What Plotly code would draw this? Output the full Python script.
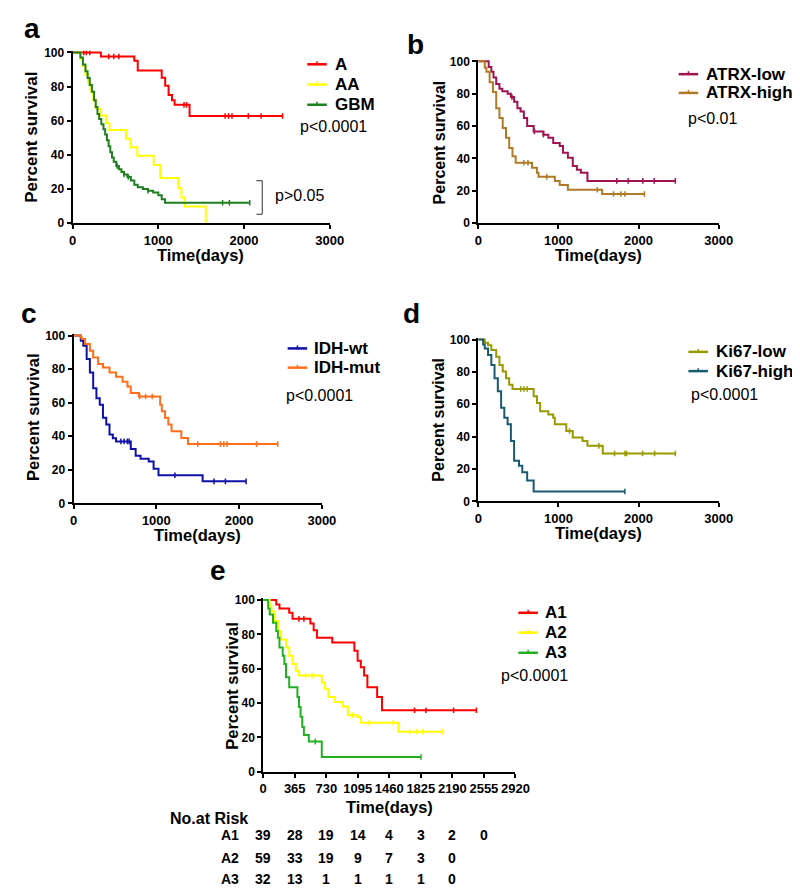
import numpy as np
import plotly.graph_objects as go

W, H = 800, 891
FONT = "Liberation Sans, Arial, sans-serif"

# ---------------- data ----------------
# Panel a
A_t = [0, 330, 720, 760, 1040, 1080, 1120, 1160, 1190, 1365, 2450]
A_s = [100, 97.6, 95.2, 89.5, 85.2, 80.5, 75, 72, 69.3, 62.8, 62.8]
A_c = [130, 160, 200, 420, 480, 540, 1300, 1330, 1780, 1820, 1860, 2050, 2200, 2450]
AA_t = [0, 91, 120, 150, 180, 210, 240, 270, 330, 390, 430, 623, 680, 756, 946, 1022, 1231, 1270, 1307, 1554]
AA_s = [100, 96, 92, 87, 82, 77, 72, 67, 63, 58.5, 54.5, 49.5, 44.5, 39.5, 34, 26.5, 20.5, 15, 9.8, 0]
AA_c = []
GBM_t = [0, 91, 120, 150, 175, 200, 225, 250, 270, 290, 310, 335, 360, 380, 400, 420, 440, 460, 480, 510,
         540, 570, 600, 640, 680, 720, 760, 820, 880, 940, 1000, 1040, 1079, 2067]
GBM_s = [100, 97, 93, 89, 85, 81, 77, 72, 68, 64, 61, 58, 55, 52, 48.5, 45, 41.5, 38.5, 36, 33.5,
         31.5, 30, 28.5, 27, 25, 22.5, 21, 20, 19, 18, 16.3, 14, 11.9, 11.9]
GBM_c = [520, 600, 650, 880, 1750, 1830, 2067]

# Panel b
ATL_t = [0, 130, 163, 190, 224, 264, 300, 366, 407, 447, 488, 528, 569, 610, 691, 813, 874, 935, 1016,
         1057, 1118, 1179, 1230, 1280, 1362, 2459]
ATL_s = [100, 96.5, 93.5, 90, 86, 83, 81.5, 80, 78, 75, 71, 69, 65, 60, 56.7, 54.7, 52.7, 49.6, 47.6,
         43.5, 40.4, 35.3, 33, 31.2, 26.1, 26.1]
ATL_c = [420, 700, 813, 1728, 1870, 2053, 2195, 2459]
ATH_t = [0, 81, 102, 142, 183, 224, 264, 305, 346, 386, 427, 467, 671, 732, 752, 955, 1016, 1118, 1545, 2073]
ATH_s = [100, 96, 93.5, 87, 81, 71, 65, 58.8, 52.7, 46.5, 41.4, 37.3, 34.3, 31.2, 28.6, 26.1, 23.5, 20.6, 18, 18]
ATH_c = [569, 620, 854, 1484, 1687, 1780, 1830, 2073]

# Panel c
WT_t = [0, 87, 118, 158, 197, 237, 276, 316, 355, 395, 434, 474, 513, 691, 750, 809, 908, 967, 1026, 1559, 2084]
WT_s = [100, 97, 94, 86, 78, 68.6, 62.7, 58.8, 51, 47, 41, 38.8, 36.9, 32.4, 28.4, 26.5, 24.9, 20.6, 16.7, 13.1, 13.1]
WT_c = [572, 610, 650, 671, 1224, 1697, 1835, 2084]
MUT_t = [0, 87, 99, 138, 197, 237, 296, 355, 434, 513, 592, 651, 691, 789, 1046, 1066, 1105, 1145, 1184,
         1302, 1382, 2467]
MUT_s = [100, 99, 98, 95, 91, 87, 83, 81, 78, 75.5, 72.5, 69.6, 65.7, 63.7, 58.8, 54.9, 51, 47, 43,
         39, 35.3, 35.3]
MUT_c = [800, 870, 950, 1500, 1776, 1815, 1855, 2210, 2467]

# Panel d
KL_t = [0, 81, 122, 163, 224, 264, 305, 346, 386, 427, 691, 732, 772, 874, 935, 955, 1098, 1179, 1301,
        1362, 1553, 2459]
KL_s = [100, 98, 96.5, 93.5, 89.4, 84.3, 80.2, 76, 72, 69.4, 64.9, 60.8, 55.7, 53.7, 51.6, 47.6, 43.5,
        39.4, 37.3, 34.3, 29.6, 29.6]
KL_c = [530, 570, 610, 1138, 1504, 1700, 1830, 1850, 2050, 2200, 2459]
KH_t = [0, 61, 81, 122, 163, 203, 244, 285, 325, 366, 407, 447, 508, 549, 610, 691, 1829]
KH_s = [100, 97, 94.5, 90.4, 84.3, 76, 68, 57.8, 51.6, 47.6, 37.3, 25.1, 22, 18, 12.9, 6.1, 6.1]
KH_c = [1829]

# Panel e
E1_t = [0, 151, 188, 301, 339, 546, 584, 622, 799, 1055, 1093, 1130, 1168, 1206, 1319, 1375, 2468]
E1_s = [100, 97.3, 95, 92.5, 89, 86.3, 82.3, 78, 75.2, 70.4, 64.6, 60.8, 56, 49.2, 43.5, 35.8, 35.8]
E1_c = [414, 471, 1752, 1884, 2204, 2468]
E2_t = [0, 75, 94, 132, 170, 207, 264, 301, 339, 377, 414, 678, 716, 754, 829, 923, 980, 1093, 1130, 1564, 2072]
E2_s = [100, 97, 93.5, 87.7, 82, 77, 72.3, 67.5, 62.7, 58.8, 56, 52, 48.3, 43.5, 40.6, 38, 32.9, 31.9,
        28.5, 23.3, 23.3]
E2_c = [490, 565, 1036, 1225, 1507, 1695, 1780, 1846, 2072]
E3_t = [0, 57, 75, 113, 151, 170, 188, 226, 245, 264, 301, 396, 414, 433, 452, 471, 528, 678, 1827]
E3_s = [100, 95, 91.5, 86.7, 82, 78, 72.3, 67.5, 62.7, 55, 49.2, 43.5, 37.7, 32, 26, 21.3, 17.5, 8.5, 8.5]
E3_c = [603, 1827]

# risk table
risk_times = [0, 365, 730, 1095, 1460, 1825, 2190, 2555]
risk_A1 = [39, 28, 19, 14, 4, 3, 2, 0]
risk_A2 = [59, 33, 19, 9, 7, 3, 0]
risk_A3 = [32, 13, 1, 1, 1, 1, 0]

xt_std = [0, 1000, 2000, 3000]
xt_e = [0, 365, 730, 1095, 1460, 1825, 2190, 2555, 2920]
yt = [0, 20, 40, 60, 80, 100]

# ---------------- helpers ----------------
def X(px):
    return px / W

def Y(py):
    return 1 - py / H

def surv_at(tc, t, s):
    t = np.asarray(t); s = np.asarray(s)
    idx = np.searchsorted(t, np.asarray(tc, dtype=float), side="right") - 1
    return s[np.clip(idx, 0, len(s) - 1)]

YTOP = 101.0

panels = [
    dict(k="", xd=(62, 325), y0=213, y100=40, xmax=3000, xt=xt_std,
         curves=[("A", A_t, A_s, A_c, "#ff0000"), ("AA", AA_t, AA_s, AA_c, "#ffff00"),
                 ("GBM", GBM_t, GBM_s, GBM_c, "#1e7f1e")]),
    dict(k="2", xd=(477, 723), y0=213, y100=49, xmax=3000, xt=xt_std,
         curves=[("ATRX-low", ATL_t, ATL_s, ATL_c, "#a01350"), ("ATRX-high", ATH_t, ATH_s, ATH_c, "#b07a27")]),
    dict(k="3", xd=(63, 317), y0=497, y100=327, xmax=3000, xt=xt_std,
         curves=[("IDH-wt", WT_t, WT_s, WT_c, "#1010a8"), ("IDH-mut", MUT_t, MUT_s, MUT_c, "#ff6e1a")]),
    dict(k="4", xd=(477, 723), y0=495, y100=331, xmax=3000, xt=xt_std,
         curves=[("Ki67-low", KL_t, KL_s, KL_c, "#999900"), ("Ki67-high", KH_t, KH_s, KH_c, "#195b6e")]),
    dict(k="5", xd=(257, 515), y0=769, y100=595, xmax=2920, xt=xt_e,
         curves=[("A1", E1_t, E1_s, E1_c, "#ff0000"), ("A2", E2_t, E2_s, E2_c, "#ffff00"),
                 ("A3", E3_t, E3_s, E3_c, "#22b022")]),
]

fig = go.Figure()
layout = dict(width=W, height=H, margin=dict(l=0, r=0, t=0, b=0),
              paper_bgcolor="white", plot_bgcolor="white", showlegend=False)

for p in panels:
    k = p["k"]
    ybot = Y(p["y0"]); y100 = Y(p["y100"])
    ytop = ybot + (y100 - ybot) * YTOP / 100
    layout["xaxis" + k] = dict(domain=[X(p["xd"][0]), X(p["xd"][1])], range=[0, p["xmax"]],
                               anchor="y" + k, tickvals=p["xt"], showline=True, linecolor="black",
                               linewidth=2, ticks="outside", ticklen=4, tickwidth=2, tickcolor="black",
                               showgrid=False, zeroline=False,
                               tickfont=dict(family=FONT, size=13, color="black", weight="bold"))
    layout["yaxis" + k] = dict(domain=[ybot, ytop], range=[0, YTOP], anchor="x" + k, tickvals=yt,
                               showline=True, linecolor="black", linewidth=2, ticks="outside",
                               ticklen=4, tickwidth=2, tickcolor="black", showgrid=False, zeroline=False,
                               tickfont=dict(family=FONT, size=12, color="black", weight="bold"))
    for name, t, s, c, col in p["curves"]:
        fig.add_trace(go.Scatter(x=t, y=s, mode="lines", line=dict(color=col, width=2, shape="hv"),
                                 name=name, xaxis="x" + k, yaxis="y" + k))
        if len(c):
            fig.add_trace(go.Scatter(x=c, y=surv_at(c, t, s), mode="markers",
                                     marker=dict(symbol="line-ns", size=4,
                                                 line=dict(color=col, width=1.5)),
                                     name=name, xaxis="x" + k, yaxis="y" + k, showlegend=False))

ann = []
shapes = []

def text(px, py, s, size, bold=True, xanchor="center", yanchor="middle", angle=0, xref="paper", xval=None):
    ann.append(dict(x=X(px) if xval is None else xval, y=Y(py), xref=xref, yref="paper", text=s,
                    showarrow=False, xanchor=xanchor, yanchor=yanchor, textangle=angle,
                    font=dict(family=FONT, size=size, color="black", weight="bold" if bold else "normal")))

# panel letters
text(10, 16, "a", 28, xanchor="left")
text(402, 32, "b", 28, xanchor="left")
text(7, 305, "c", 28, xanchor="left")
text(398, 305, "d", 28, xanchor="left")
text(201, 565, "e", 28, xanchor="left")

# y titles
text(20, 126, "Percent survival", 17, angle=-90)
text(437, 131, "Percent survival", 16, angle=-90)
text(22, 410, "Percent survival", 16.5, angle=-90)
text(436, 412, "Percent survival", 16, angle=-90)
text(225, 682, "Percent survival", 16.5, angle=-90)

# x titles
text(193, 245, "Time(days)", 16.5)
text(600, 245, "Time(days)", 16.5)
text(190, 529, "Time(days)", 16.5)
text(600, 527, "Time(days)", 16.5)
text(386, 805, "Time(days)", 16.5)

# legends (manual)
legends = [
    (panels[0], 302, 322, 328, [52, 72.5, 93]),
    (panels[1], 682, 702, 708, [62, 81]),
    (panels[2], 282, 302, 307, [340, 359.5]),
    (panels[3], 692, 712, 718, [343.5, 363]),
    (panels[4], 518, 538, 543, [608, 628, 648.5]),
]
for p, x0, x1, xt, ys in legends:
    for (name, t, s, c, col), yy in zip(p["curves"], ys):
        shapes.append(dict(type="line", xref="paper", yref="paper", x0=X(x0), x1=X(x1), y0=Y(yy), y1=Y(yy),
                           line=dict(color=col, width=2.5)))
        shapes.append(dict(type="line", xref="paper", yref="paper", x0=X((x0 + x1) / 2), x1=X((x0 + x1) / 2),
                           y0=Y(yy - 3), y1=Y(yy + 1), line=dict(color=col, width=1.5)))
        text(xt, yy, name, 17, xanchor="left")

# p-values
text(293, 115, "p<0.0001", 16, bold=False, xanchor="left")
text(267, 185, "p>0.05", 16, bold=False, xanchor="left")
text(690, 107, "p<0.01", 16, bold=False, xanchor="left")
text(278, 388, "p<0.0001", 16, bold=False, xanchor="left")
text(693, 387, "p<0.0001", 16, bold=False, xanchor="left")
text(498, 672, "p<0.0001", 16, bold=False, xanchor="left")

# bracket in a
shapes.append(dict(type="path", xref="paper", yref="paper",
                   path=f"M {X(250)},{Y(170)} L {X(256)},{Y(170)} L {X(256)},{Y(204)} L {X(250)},{Y(204)}",
                   line=dict(color="#333333", width=1)))

# risk table
text(160, 817, "No.at Risk", 16, xanchor="left")
for lab, vals, yy in [("A1", risk_A1, 833), ("A2", risk_A2, 857), ("A3", risk_A3, 878)]:
    text(234, yy, lab, 14, xanchor="right")
    for tv, v in zip(risk_times, vals):
        text(0, yy, str(v), 14, xref="x5", xval=tv)

layout["annotations"] = ann
layout["shapes"] = shapes
fig.update_layout(**layout)
fig.write_html("out.html")
